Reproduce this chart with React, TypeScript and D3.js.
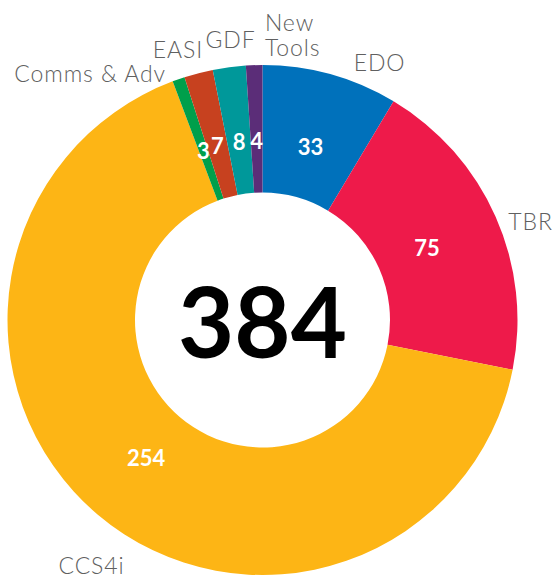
import React from "react";
import * as d3 from "d3";

const categories = ["EDO", "TBR", "CCS4i", "Comms & Adv", "EASI", "GDF", "New Tools"];
const values = [33, 75, 254, 3, 7, 8, 4];
const colors = ["#0071BB", "#EE1A4A", "#FDB515", "#009F4B", "#C7411F", "#00989A", "#5B2D78"];
const totalLabel = "384";

// label nudges relative to the mid-angle point at labelRadius (style only)
const labelNudge: Record<string, { dx: number; dy: number; anchor: string }> = {
  "EDO": { dx: 41, dy: 26, anchor: "middle" },
  "TBR": { dx: 7.5, dy: 25.5, anchor: "middle" },
  "CCS4i": { dx: 13.4, dy: 36.5, anchor: "middle" },
  "Comms & Adv": { dx: -2.7, dy: 31.1, anchor: "end" },
  "EASI": { dx: -13, dy: 13.9, anchor: "middle" },
  "GDF": { dx: 5.2, dy: 10.6, anchor: "middle" },
  "New Tools": { dx: 11.8, dy: -4.5, anchor: "start" },
};

const W = 554;
const H = 578;
const cx = 262.5;
const cy = 320;
const outerR = 255;
const innerR = 127.5;
const valueR = 180;
const labelR = 285;

export default function App() {
  const data = categories.map((c, i) => ({ name: c, value: values[i], color: colors[i] }));
  const pie = d3.pie<any>().value((d: any) => d.value).sort(null);
  const arcs = pie(data);
  const arcGen = d3.arc<any>().innerRadius(innerR).outerRadius(outerR);
  const valueArc = d3.arc<any>().innerRadius(valueR).outerRadius(valueR);
  const labelArc = d3.arc<any>().innerRadius(labelR).outerRadius(labelR);

  return (
    <div style={{ position: "absolute", left: 0, top: 0 }}>
      <svg width={W} height={H} style={{ display: "block" }}>
        <g transform={`translate(${cx},${cy})`}>
          {arcs.map((a, i) => (
            <path key={i} d={arcGen(a) as string} fill={a.data.color} />
          ))}
          {arcs.map((a, i) => {
            const [x, y] = valueArc.centroid(a);
            return (
              <text
                key={"v" + i}
                x={x}
                y={y}
                textAnchor="middle"
                dominantBaseline="central"
                fill="#fff"
                fontFamily="Lato, sans-serif"
                fontWeight={700}
                fontSize={22}
              >
                {a.data.value}
              </text>
            );
          })}
          {arcs.map((a, i) => {
            const [x, y] = labelArc.centroid(a);
            const n = labelNudge[a.data.name];
            const words = a.data.name === "New Tools" ? ["New", "Tools"] : [a.data.name];
            return (
              <text
                key={"l" + i}
                x={x + n.dx}
                y={y + n.dy}
                textAnchor={n.anchor}
                fill="#606060"
                fontFamily="Lato, sans-serif"
                fontWeight={300}
                fontSize={23}
                letterSpacing={0.9}
              >
                {words.map((w, j) => (
                  <tspan key={j} x={x + n.dx} dy={j === 0 ? 0 : 25}>
                    {w}
                  </tspan>
                ))}
              </text>
            );
          })}
          <text
            x={0}
            y={0}
            textAnchor="middle"
            dominantBaseline="central"
            fill="#000"
            fontFamily="Lato, sans-serif"
            fontWeight={700}
            fontSize={97}
          >
            {totalLabel}
          </text>
        </g>
      </svg>
    </div>
  );
}
